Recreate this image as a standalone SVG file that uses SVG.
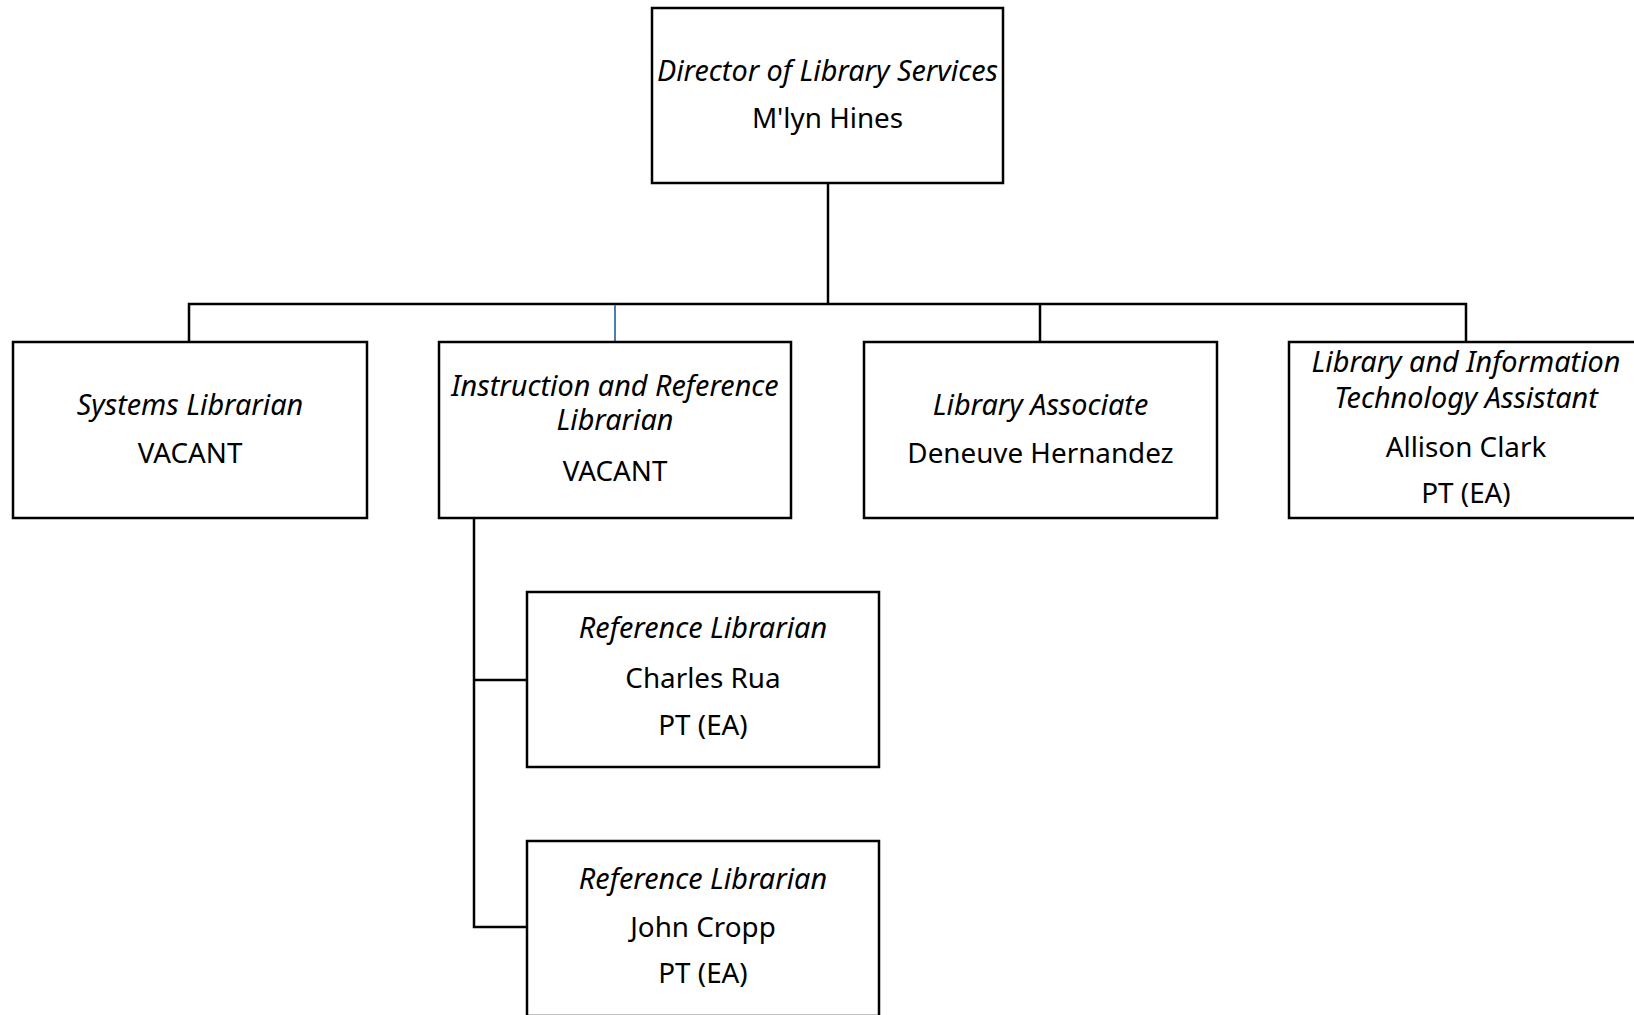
<svg xmlns="http://www.w3.org/2000/svg" width="1634" height="1015" viewBox="0 0 1634 1015">
<style>
.box{fill:#fff;stroke:#000;stroke-width:2.5}
.ln{fill:none;stroke:#000;stroke-width:2.5}
.blue{fill:none;stroke:#4a7ebb;stroke-width:2}
text{font-family:"Noto Sans","Open Sans",sans-serif;font-size:27.8px;fill:#000;text-anchor:middle}
.t{font-style:italic;font-size:28.8px}
</style>
<rect width="1634" height="1015" fill="#fff"/>
<g id="connectors">
<path class="ln" d="M828 183V304"/>
<path class="ln" d="M189 342V304H1466V342"/>
<path class="ln" d="M1040 304V342"/>
<path class="blue" d="M615 305V341"/>
<path class="ln" d="M474 518V927H527"/>
<path class="ln" d="M474 680H527"/>
</g>
<g id="director">
<rect class="box" x="652" y="8" width="351" height="175"/>
<text class="t" x="827.5" y="81">Director of Library Services</text>
<text x="827.5" y="128">M'lyn Hines</text>
</g>
<g id="systems-librarian">
<rect class="box" x="13" y="342" width="354" height="176"/>
<text class="t" x="190" y="415">Systems Librarian</text>
<text x="190" y="463">VACANT</text>
</g>
<g id="instruction-reference-librarian">
<rect class="box" x="439" y="342" width="352" height="176"/>
<text class="t" x="615" y="396">Instruction and Reference</text>
<text class="t" x="615" y="430">Librarian</text>
<text x="615" y="481">VACANT</text>
</g>
<g id="library-associate">
<rect class="box" x="864" y="342" width="353" height="176"/>
<text class="t" x="1040.5" y="415">Library Associate</text>
<text x="1040.5" y="463">Deneuve Hernandez</text>
</g>
<g id="lit-assistant">
<rect class="box" x="1289" y="342" width="353" height="176"/>
<text class="t" x="1466" y="372">Library and Information</text>
<text class="t" x="1466" y="408">Technology Assistant</text>
<text x="1466" y="457">Allison Clark</text>
<text x="1466" y="503">PT (EA)</text>
</g>
<g id="reference-librarian-1">
<rect class="box" x="527" y="592" width="352" height="175"/>
<text class="t" x="703" y="638">Reference Librarian</text>
<text x="703" y="688">Charles Rua</text>
<text x="703" y="735">PT (EA)</text>
</g>
<g id="reference-librarian-2">
<rect class="box" x="527" y="841" width="352" height="175"/>
<text class="t" x="703" y="889">Reference Librarian</text>
<text x="703" y="937">John Cropp</text>
<text x="703" y="983">PT (EA)</text>
</g>
</svg>
